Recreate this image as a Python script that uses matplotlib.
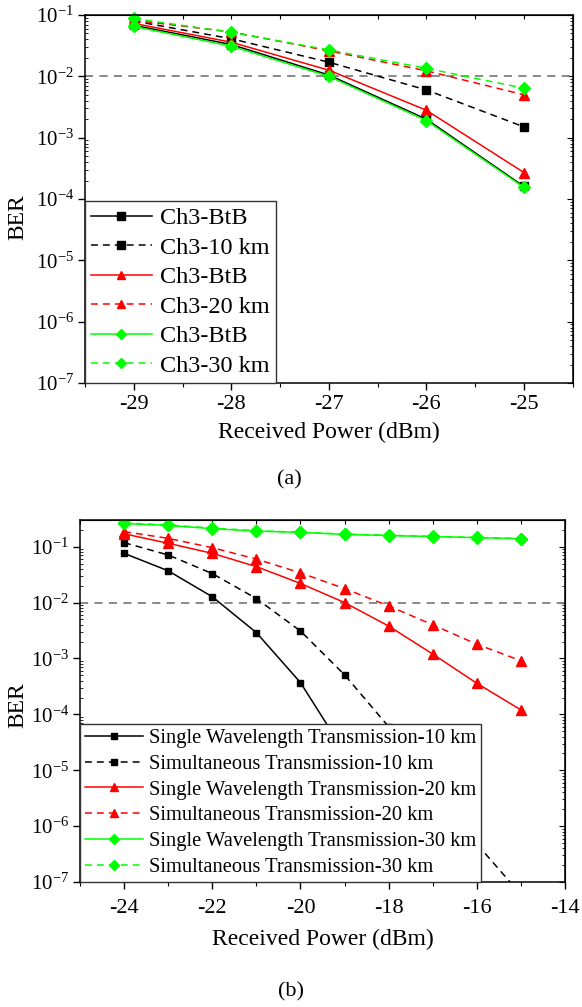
import numpy as np
import matplotlib.pyplot as plt
from matplotlib.ticker import MultipleLocator, LogLocator, NullFormatter

plt.rcParams['font.family'] = ['Liberation Serif', 'DejaVu Serif']
plt.rcParams['mathtext.fontset'] = 'custom'
plt.rcParams['mathtext.rm'] = 'Liberation Serif'
plt.rcParams['axes.unicode_minus'] = False

# panel (a): Ch3 BER vs received power
power_a = [-29, -28, -27, -26, -25]
ber_a_btb_k = [0.068, 0.033, 0.0105, 0.0020, 1.6e-4]
ber_a_10km = [0.080, 0.041, 0.017, 0.0060, 0.0015]
ber_a_btb_r = [0.073, 0.036, 0.0126, 0.0028, 2.7e-4]
ber_a_20km = [0.082, 0.053, 0.026, 0.0123, 0.0050]
ber_a_btb_g = [0.065, 0.031, 0.0100, 0.0019, 1.55e-4]
ber_a_30km = [0.088, 0.052, 0.027, 0.0135, 0.0064]

# panel (b): single wavelength vs simultaneous transmission
power_b = [-24, -23, -22, -21, -20, -19, -18, -17, -16, -15]
single_10 = [0.076, 0.037, 0.0127, 0.0029, 3.7e-4, 2.1e-5, 1e-6]
simul_10 = [0.118, 0.071, 0.033, 0.0118, 0.0031, 5.1e-4, 6e-5, 5e-6, 4.8e-7, 6e-8]
single_20 = [0.17, 0.115, 0.076, 0.044, 0.022, 0.010, 0.0038, 0.0012, 3.6e-4, 1.2e-4]
simul_20 = [0.186, 0.141, 0.096, 0.060, 0.034, 0.0178, 0.0087, 0.0040, 0.0018, 9.1e-4]
single_30 = [0.26, 0.24, 0.21, 0.19, 0.18, 0.166, 0.158, 0.152, 0.145, 0.139]
simul_30 = [0.265, 0.245, 0.215, 0.193, 0.181, 0.168, 0.160, 0.153, 0.146, 0.140]

fec_limit = 1e-2
GREEN = '#00ff00'
DASH = (4.5, 3.3)


def style_axes(ax, xminor, topstep, xpad):
    ax.set_yscale('log')
    for s in ax.spines.values():
        s.set_linewidth(1.1)
    ax.xaxis.set_minor_locator(MultipleLocator(xminor))
    ax.yaxis.set_major_locator(LogLocator(base=10, numticks=20))
    ax.yaxis.set_minor_locator(LogLocator(base=10, subs=np.arange(2, 10), numticks=20))
    ax.yaxis.set_minor_formatter(NullFormatter())
    ax.tick_params(which='major', direction='out', length=5, width=1, labelsize=16, pad=3)
    ax.tick_params(axis='x', which='major', pad=xpad)
    ax.tick_params(axis='y', which='major', labelsize=15)
    ax.tick_params(axis='x', which='minor', direction='out', length=3, width=0.8)
    ax.tick_params(axis='y', which='minor', direction='in', length=2, width=0.6)
    # top / right spines carry inward ticks without labels
    secx = ax.secondary_xaxis('top')
    secx.xaxis.set_major_locator(MultipleLocator(topstep))
    secx.xaxis.set_major_formatter(NullFormatter())
    secx.tick_params(direction='in', length=3, width=0.8)
    secy = ax.secondary_yaxis('right')
    secy.yaxis.set_major_locator(LogLocator(base=10, numticks=20))
    secy.yaxis.set_minor_locator(LogLocator(base=10, subs=np.arange(2, 10), numticks=20))
    secy.yaxis.set_major_formatter(NullFormatter())
    secy.yaxis.set_minor_formatter(NullFormatter())
    secy.tick_params(which='major', direction='in', length=4, width=0.8)
    secy.tick_params(which='minor', direction='in', length=2, width=0.6)
    ax.axhline(fec_limit, color='#808080', lw=1.3, dashes=(4.5, 3.5), zorder=1)


fig = plt.figure(figsize=(5.82, 10.07), dpi=100)

# ---- (a)
ax1 = fig.add_axes([0.146, 0.6197, 0.838, 0.3654])
style_axes(ax1, 0.5, 0.5, 4)
ax1.plot(power_a, ber_a_btb_k, color='k', lw=1.1, marker='s', ms=6.3, label='Ch3-BtB', clip_on=False)
ax1.plot(power_a, ber_a_10km, color='k', lw=1.1, dashes=DASH, marker='s', ms=6.3, label='Ch3-10 km', clip_on=False)
ax1.plot(power_a, ber_a_btb_r, color='r', lw=1.1, marker='^', ms=7.5, label='Ch3-BtB', clip_on=False)
ax1.plot(power_a, ber_a_20km, color='r', lw=1.1, dashes=DASH, marker='^', ms=7.5, label='Ch3-20 km', clip_on=False)
ax1.plot(power_a, ber_a_btb_g, color=GREEN, lw=1.1, marker='D', ms=6.2, label='Ch3-BtB', clip_on=False)
ax1.plot(power_a, ber_a_30km, color=GREEN, lw=1.1, dashes=DASH, marker='D', ms=6.2, label='Ch3-30 km', clip_on=False)
ax1.set_xlim(-29.5, -24.5)
ax1.set_ylim(1e-7, 1e-1)
ax1.set_xticks(power_a)
ax1.set_xlabel('Received Power (dBm)', fontsize=17, labelpad=5.5)
ax1.set_ylabel('BER', fontsize=17)
ax1.yaxis.set_label_coords(-0.117, 0.45)
leg1 = ax1.legend(loc='lower left', borderaxespad=0, fontsize=17.5, handlelength=2.5,
                  handletextpad=0.33, labelspacing=0.31, borderpad=0.25, fancybox=False,
                  edgecolor='#333333', framealpha=1, markerscale=0.85)
leg1.get_frame().set_linewidth(1.0)

# ---- (b)
ax2 = fig.add_axes([0.1375, 0.1241, 0.8333, 0.3595])
style_axes(ax2, 1, 1, 7.5)
ax2.plot(power_b[:len(single_10)], single_10, color='k', lw=1.1, marker='s', ms=5,
         label='Single Wavelength Transmission-10 km')
ax2.plot(power_b, simul_10, color='k', lw=1.1, dashes=DASH, marker='s', ms=5,
         label='Simultaneous Transmission-10 km')
ax2.plot(power_b, single_20, color='r', lw=1.1, marker='^', ms=6.5,
         label='Single Wavelength Transmission-20 km')
ax2.plot(power_b, simul_20, color='r', lw=1.1, dashes=DASH, marker='^', ms=6.5,
         label='Simultaneous Transmission-20 km')
ax2.plot(power_b, single_30, color=GREEN, lw=1.1, marker='D', ms=6.5,
         label='Single Wavelength Transmission-30 km')
ax2.plot(power_b, simul_30, color=GREEN, lw=1.1, dashes=DASH, marker='D', ms=6.5,
         label='Simultaneous Transmission-30 km')
ax2.set_xlim(-25, -14)
ax2.set_ylim(1e-7, 0.3)
ax2.set_xticks([-24, -22, -20, -18, -16, -14])
ax2.set_xlabel('Received Power (dBm)', fontsize=17, labelpad=7.5)
ax2.set_ylabel('BER', fontsize=17)
ax2.yaxis.set_label_coords(-0.107, 0.49)
leg2 = ax2.legend(loc='lower left', borderaxespad=0, fontsize=14.8, handlelength=2.8,
                  handletextpad=0.3, labelspacing=0.31, borderpad=0.25, fancybox=False,
                  edgecolor='#333333', framealpha=1, markerscale=0.8)
leg2.get_frame().set_linewidth(1.0)

fig.text(0.498, 0.5233, '(a)', ha='center', va='center', fontsize=16)
fig.text(0.5, 0.0152, '(b)', ha='center', va='center', fontsize=16)

fig.savefig('out.png', dpi=100)
